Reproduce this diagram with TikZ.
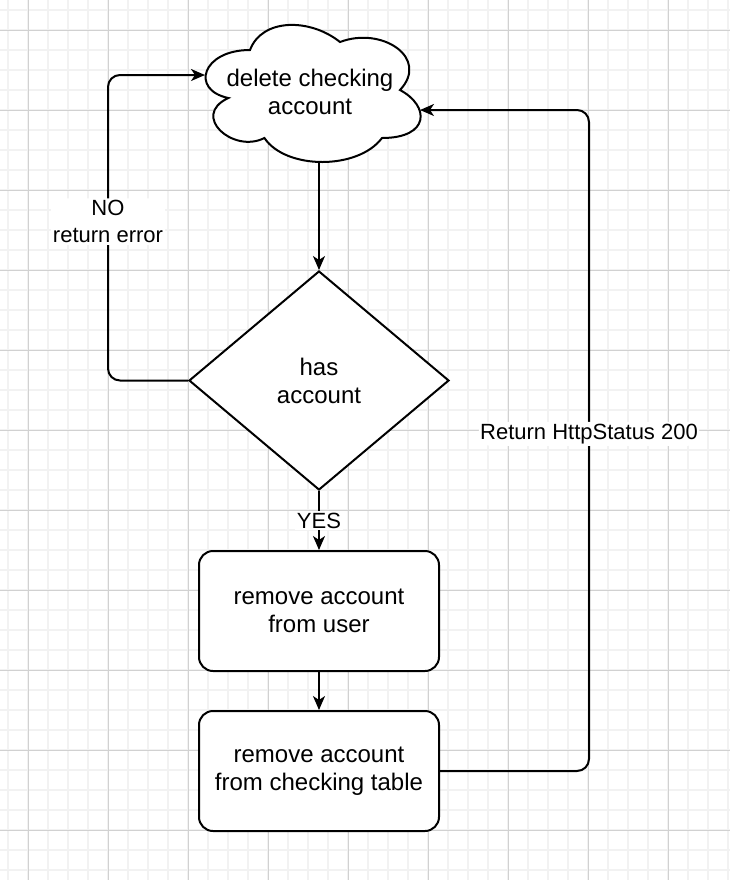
\documentclass[tikz,border=0pt]{standalone}
\usepackage{fontspec}
\setmainfont{Liberation Sans}
\usetikzlibrary{arrows.meta,shapes.geometric}

\begin{document}
\begin{tikzpicture}[x=0.5pt,y=-0.5pt,>={Stealth[length=7pt,width=6pt,inset=2pt]},line width=1pt,
  font=\fontsize{12pt}{14pt}\selectfont,
  gridminor/.style={line width=1pt,color=black!5},
  gridmajor/.style={line width=0.5pt,color=black!18},
  decision/.style={draw,diamond,inner sep=0pt,minimum width=130pt,minimum height=109.5pt,fill=white,align=center},
  process/.style={draw,rectangle,rounded corners=7pt,minimum width=120pt,minimum height=60pt,fill=white,align=center},
  lbl/.style={fill=white,inner sep=1pt,align=center,font=\fontsize{11pt}{13.5pt}\selectfont}]
  \useasboundingbox[fill=white] (0,0) rectangle (730,880);

  % background grid
  \foreach \gx in {8,28,...,728} \draw[gridminor] (\gx,0) -- (\gx,880);
  \foreach \gy in {10,30,...,870} \draw[gridminor] (0,\gy) -- (730,\gy);
  \foreach \gx in {28,108,...,668} \draw[gridmajor] (\gx,0) -- (\gx,880);
  \foreach \gy in {30,110,...,830} \draw[gridmajor] (0,\gy) -- (730,\gy);

  % cloud
  \draw[fill=white] (250,50) .. controls (202,50) and (190,90) .. (228.4,98)
    .. controls (190,115.6) and (233.2,154) .. (264.4,138)
    .. controls (286,170) and (358,170) .. (382,138)
    .. controls (430,138) and (430,106) .. (400,90)
    .. controls (430,58) and (382,26) .. (340,42)
    .. controls (310,18) and (262,18) .. (250,50) -- cycle;
  \node[align=center] (start) at (310,92) {delete checking\\account};
  \coordinate (startW) at (205,75);
  \coordinate (startE) at (420,110);
  \coordinate (startS) at (319,163);

  \node[decision] (dec) at (319,380.5) {has\\account};
  \node[process] (rm1) at (319,611) {remove account\\from user};
  \node[process] (rm2) at (319,771) {remove account\\from checking table};

  \draw[->] (startS) -- (dec.north);
  \draw[->,rounded corners=6pt] (dec.west) -- ++(-80,0)
    |- node[lbl,pos=0.26] {NO\\return error} (startW);
  \draw[->] (dec.south) -- node[lbl] {YES} (rm1);
  \draw[->] (rm1) -- (rm2);
  \draw[->,rounded corners=6pt] (rm2.east) -- ++(149,0)
    |- node[lbl,pos=0.255] {Return HttpStatus 200} (startE);
\end{tikzpicture}
\end{document}
